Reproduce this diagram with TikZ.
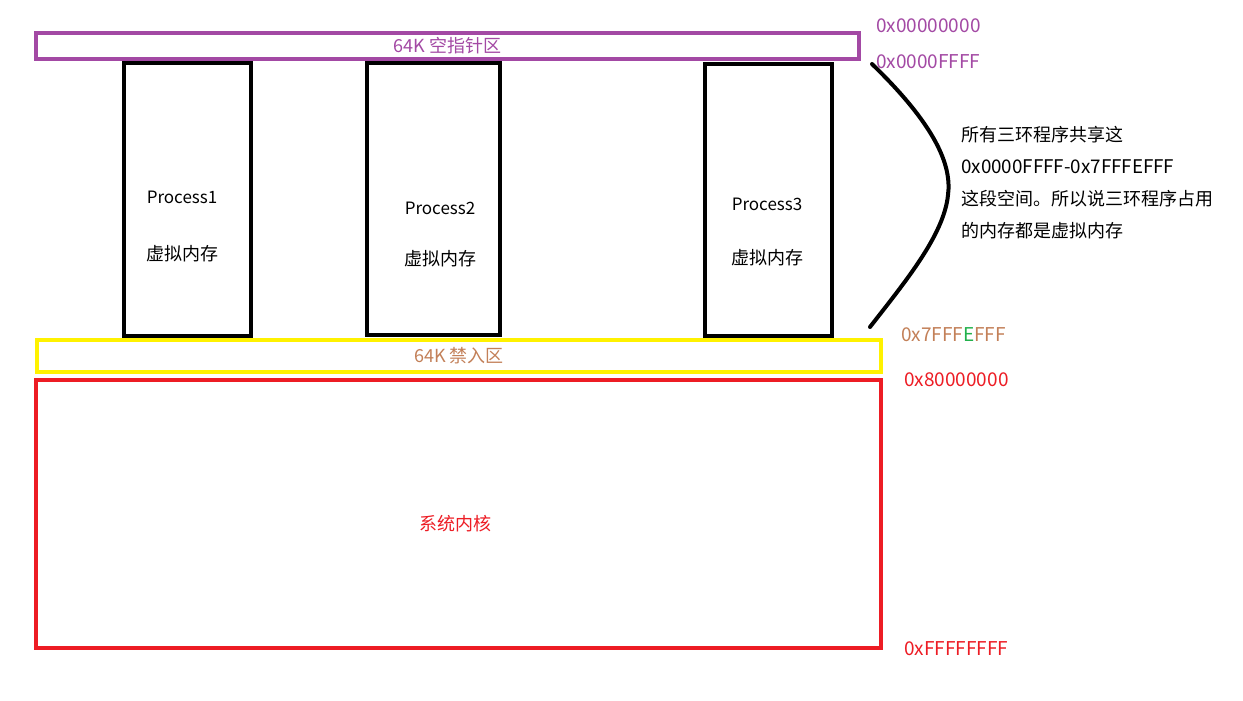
\documentclass[tikz,border=0pt]{standalone}
\usepackage{fontspec}
\setmainfont{Noto Sans CJK SC}
\usetikzlibrary{positioning}
\definecolor{nullpurple}{RGB}{163,73,164}
\definecolor{guardbrown}{RGB}{195,128,88}
\definecolor{guardyellow}{RGB}{255,242,0}
\definecolor{kernelred}{RGB}{237,28,36}
\definecolor{offgreen}{RGB}{34,177,76}
\tikzstyle{zone} = [draw, rectangle, line width=4pt, inner sep=0pt, font=\fontsize{18}{21}\selectfont]
\tikzstyle{proc} = [draw, rectangle, line width=4pt, minimum width=127pt, minimum height=272pt]
\tikzstyle{ptext} = [inner sep=0pt, font=\fontsize{17}{20}\selectfont]
\tikzstyle{ctext} = [inner sep=0pt, font=\fontsize{18}{21}\selectfont]
\tikzstyle{addr} = [anchor=west, inner sep=0pt, font=\fontsize{19}{22}\selectfont]
\tikzstyle{note} = [anchor=west, inner sep=0pt, font=\fontsize{18}{21}\selectfont]

\begin{document}
\begin{tikzpicture}[x=1pt, y=-1pt]
    \useasboundingbox[fill=white] (0,0) rectangle (1243,701);
    % regions
    \node [zone, draw=nullpurple, text=nullpurple, minimum width=823pt, minimum height=26pt] (nullzone) at (447.5,46) {64K 空指针区};
    \node [zone, draw=guardyellow, text=guardbrown, minimum width=844pt, minimum height=32pt] (guardzone) at (459,356) {64K 禁入区};
    \node [zone, draw=kernelred, text=kernelred, minimum width=845pt, minimum height=268pt] (kernel) at (458.5,514) {};
    \node [ctext, text=kernelred] (kerneltext) at (455,524) {系统内核};

    % processes
    \node [proc] (proc1) at (187,199.5) {};
    \node [proc, minimum width=133pt] (proc2) at (433.5,199) {};
    \node [proc] (proc3) at (768.5,200) {};
    \node [ptext] (p1name) at (182,197) {Process1};
    \node [ctext, below of=p1name, node distance=57pt] (p1mem) {虚拟内存};
    \node [ptext] (p2name) at (440,208) {Process2};
    \node [ctext, below of=p2name, node distance=51pt] (p2mem) {虚拟内存};
    \node [ptext] (p3name) at (767,204) {Process3};
    \node [ctext, below of=p3name, node distance=54pt] (p3mem) {虚拟内存};

    % addresses
    \node [addr, text=nullpurple] (a0) at (876,26) {0x00000000};
    \node [addr, text=nullpurple] (a1) at (876,62) {0x0000FFFF};
    \node [addr, text=guardbrown] (a2) at (901,335) {0x7FFF{\color{offgreen}E}FFF};
    \node [addr, text=kernelred] (a3) at (904,380) {0x80000000};
    \node [addr, text=kernelred] (a4) at (904,649) {0xFFFFFFFF};

    % shared range
    \coordinate (sharetop) at (872,64);
    \coordinate (sharebot) at (870,327);
    \draw [line width=4pt, line cap=round] (sharetop) .. controls (935,125) and (952,165) .. (948,195) .. controls (944,235) and (905,282) .. (sharebot);
    \node [note] (n1) at (961,135) {所有三环程序共享这};
    \node [note, font=\fontsize{18.8}{22}\selectfont] (n2) at (961,167) {0x0000FFFF-0x7FFFEFFF};
    \node [note] (n3) at (961,199) {这段空间。所以说三环程序占用};
    \node [note] (n4) at (961,231) {的内存都是虚拟内存};
\end{tikzpicture}
\end{document}
